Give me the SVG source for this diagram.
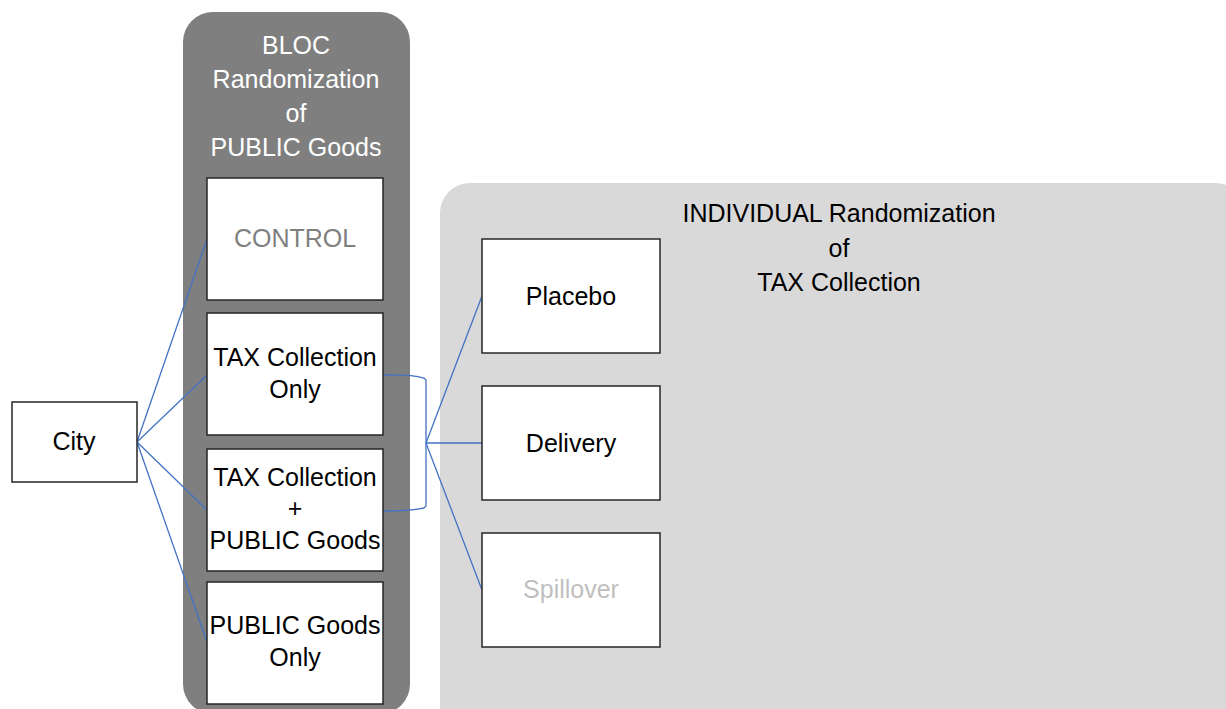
<svg xmlns="http://www.w3.org/2000/svg" width="1226" height="709" viewBox="0 0 1226 709">
<style>
text{font-family:"Liberation Sans",Arial,sans-serif;font-size:25px;text-anchor:middle;fill:#000}
.box{fill:#fff;stroke:#262626;stroke-width:1.5}
.w{fill:#fff}
.conn{fill:none;stroke:#4472c4;stroke-width:1.3}
</style>
<rect width="1226" height="709" fill="#fff"/>
<g id="bloc-panel">
<rect x="183" y="12" width="227" height="702" rx="30" fill="#7f7f7f"/>
<text class="w" x="296" y="54">BLOC</text>
<text class="w" x="296" y="88">Randomization</text>
<text class="w" x="296" y="122">of</text>
<text class="w" x="296" y="156">PUBLIC Goods</text>
</g>
<g id="individual-panel">
<rect x="440" y="183" width="806" height="560" rx="30" fill="#d9d9d9"/>
<text x="839" y="222">INDIVIDUAL Randomization</text>
<text x="839" y="257">of</text>
<text x="839" y="291">TAX Collection</text>
</g>
<g id="connectors">
<path class="conn" d="M137 442L207 239M137 442L207 375M137 442L207 510M137 442L207 642"/>
<path class="conn" d="M383 375Q410 374 424 378L426 380V506L424 508Q410 511 383 511"/>
<path class="conn" d="M426 443L482 296M426 443H482M426 443L482 590"/>
</g>
<g id="city"><rect class="box" x="12" y="402" width="125" height="80"/><text x="74" y="450">City</text></g>
<g id="control"><rect class="box" x="207" y="178" width="176" height="122"/><text x="295" y="247" style="fill:#7f7f7f">CONTROL</text></g>
<g id="tax-only"><rect class="box" x="207" y="313" width="176" height="122"/><text x="295" y="366">TAX Collection</text><text x="295" y="398">Only</text></g>
<g id="tax-public"><rect class="box" x="207" y="449" width="176" height="122"/><text x="295" y="486">TAX Collection</text><text x="295" y="517">+</text><text x="295" y="549">PUBLIC Goods</text></g>
<g id="public-only"><rect class="box" x="207" y="582" width="176" height="122"/><text x="295" y="634">PUBLIC Goods</text><text x="295" y="666">Only</text></g>
<g id="placebo"><rect class="box" x="482" y="239" width="178" height="114"/><text x="571" y="305">Placebo</text></g>
<g id="delivery"><rect class="box" x="482" y="386" width="178" height="114"/><text x="571" y="452">Delivery</text></g>
<g id="spillover"><rect class="box" x="482" y="533" width="178" height="114"/><text x="571" y="598" style="fill:#bfbfbf">Spillover</text></g>
</svg>
